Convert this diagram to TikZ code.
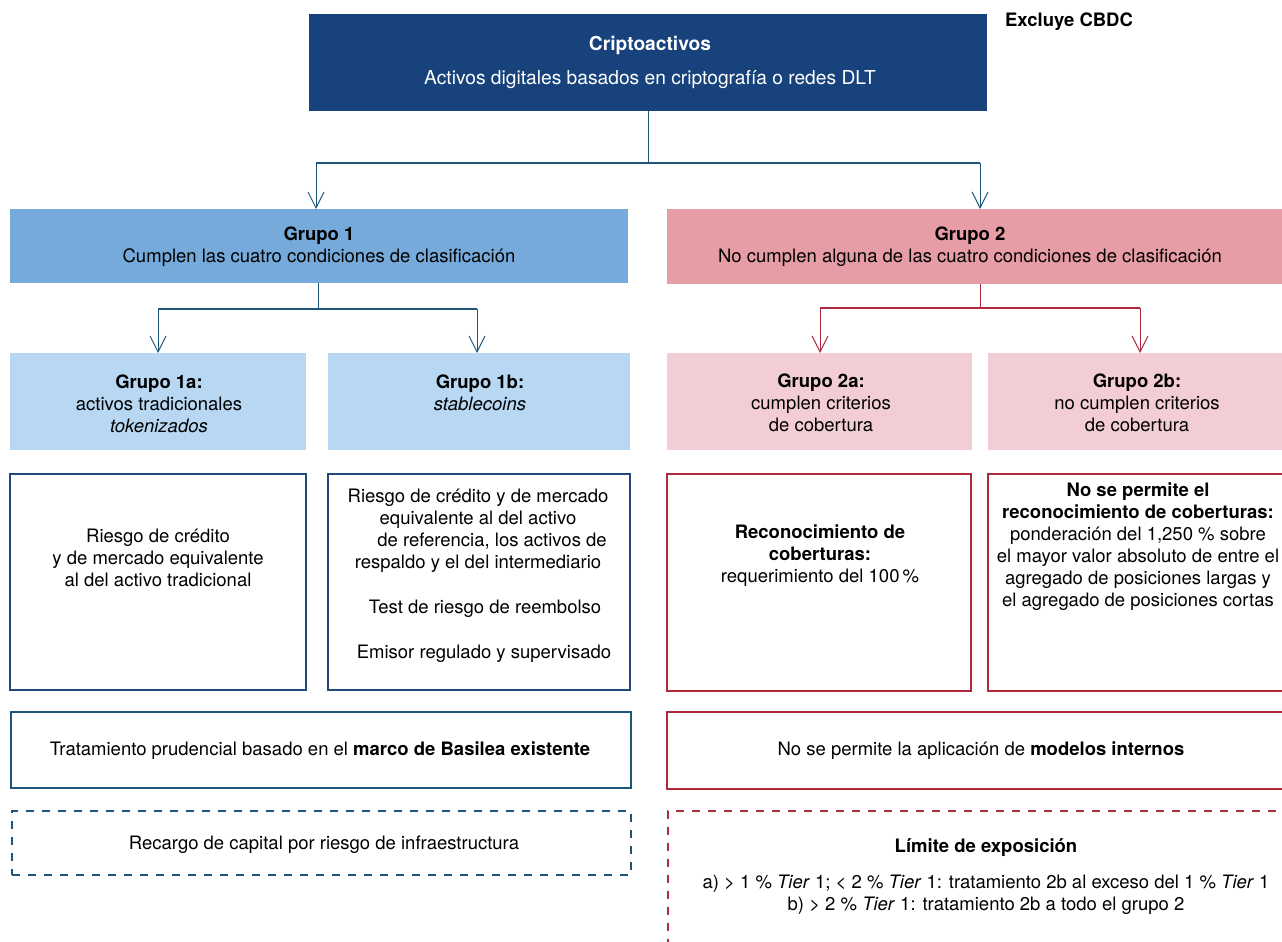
\documentclass[tikz,border=0pt]{standalone}
\usepackage{fontspec}
\setmainfont{TeX Gyre Heros}
\usetikzlibrary{arrows.meta}
\definecolor{navy}{HTML}{17427C}
\definecolor{gone}{HTML}{75AADB}
\definecolor{gonesub}{HTML}{B7D7F2}
\definecolor{gtwo}{HTML}{E69DA6}
\definecolor{gtwosub}{HTML}{F2CDD3}
\definecolor{bline}{HTML}{1C5779}
\definecolor{bbox}{HTML}{22497C}
\definecolor{rline}{HTML}{AE2B3D}
\begin{document}
\begin{tikzpicture}[x=1pt,y=-1pt,
  every node/.style={font=\fontsize{18.5}{22}\selectfont, inner sep=0pt, outer sep=0pt},
  fillbox/.style={anchor=north west, draw=none},
  bluebox/.style={anchor=north west, draw=bbox, line width=2.5pt},
  tealbox/.style={anchor=north west, draw=bline, line width=2.5pt},
  redbox/.style={anchor=north west, draw=rline, line width=2.5pt},
  txt/.style={align=center, text=black},
  bconn/.style={draw=bline, line width=1pt},
  bhconn/.style={draw=bline, line width=2pt},
  barrow/.style={draw=bline, line width=1pt, -{Straight Barb[length=16pt,width=16pt]}},
  rconn/.style={draw=rline, line width=1pt},
  rhconn/.style={draw=rline, line width=2pt},
  rarrow/.style={draw=rline, line width=1pt, -{Straight Barb[length=16pt,width=16pt]}},
  dashblue/.style={draw=bline, line width=2.5pt, dash pattern=on 8pt off 8pt},
  dashred/.style={draw=rline, line width=2.5pt, dash pattern=on 8pt off 8pt}
]
\useasboundingbox (0,0) rectangle (1282,942);

% top
\node[fillbox, fill=navy, minimum width=678pt, minimum height=97pt] (crip) at (309,14) {};
\node[txt, text=white, font=\fontsize{19.2}{22}\selectfont] (tcrip) at (650,62) {\textbf{Criptoactivos}\\[12pt]Activos digitales basados en criptografía o redes DLT};
\node[txt] (excl) at (1069,22) {\textbf{Excluye CBDC}};

% level 1
\node[fillbox, fill=gone, minimum width=618pt, minimum height=74pt] (g1) at (10,209) {};
\node[txt] (tg1) at (319,247) {\textbf{Grupo 1}\\Cumplen las cuatro condiciones de clasificación};
\node[fillbox, fill=gtwo, minimum width=625pt, minimum height=75pt] (g2) at (667,209) {};
\node[txt] (tg2) at (970,247) {\textbf{Grupo 2}\\No cumplen alguna de las cuatro condiciones de clasificación};

% connectors top
\coordinate (c0) at (648,163);
\coordinate (cL) at (316,163);
\coordinate (cR) at (980,163);
\draw[bconn] (crip.south) -- (c0);
\draw[bhconn] (cL) -- (cR);
\draw[barrow] (cL) -- (cL |- g1.north);
\draw[barrow] (cR) -- (cR |- g2.north);

% level 2
\node[fillbox, fill=gonesub, minimum width=296pt, minimum height=97pt] (s1a) at (10,353) {};
\node[txt] (ts1a) at (159,404) {\textbf{Grupo 1a:}\\activos tradicionales\\\textit{tokenizados}};
\node[fillbox, fill=gonesub, minimum width=302pt, minimum height=97pt] (s1b) at (328,353) {};
\node[txt] (ts1b) at (480,393) {\textbf{Grupo 1b:}\\\textit{stablecoins}};
\node[fillbox, fill=gtwosub, minimum width=305pt, minimum height=97pt] (s2a) at (667,353) {};
\node[txt] (ts2a) at (821,403) {\textbf{Grupo 2a:}\\cumplen criterios\\de cobertura};
\node[fillbox, fill=gtwosub, minimum width=305pt, minimum height=97pt] (s2b) at (988,353) {};
\node[txt] (ts2b) at (1137,403) {\textbf{Grupo 2b:}\\no cumplen criterios\\de cobertura};

% connectors group 1
\coordinate (d0) at (318,309);
\coordinate (dL) at (158,309);
\coordinate (dR) at (477,309);
\draw[bconn] (d0 |- g1.south) -- (d0);
\draw[bhconn] (dL) -- (dR);
\draw[barrow] (dL) -- (dL |- s1a.north);
\draw[barrow] (dR) -- (dR |- s1b.north);

% connectors group 2
\coordinate (e0) at (980,308);
\coordinate (eL) at (820,308);
\coordinate (eR) at (1140,308);
\draw[rconn] (e0 |- g2.south) -- (e0);
\draw[rhconn] (eL) -- (eR);
\draw[rarrow] (eL) -- (eL |- s2a.north);
\draw[rarrow] (eR) -- (eR |- s2b.north);

% risk boxes
\node[bluebox, minimum width=296pt, minimum height=216pt] (r1a) at (10,474) {};
\node[txt] (tr1a) at (158,558) {Riesgo de crédito\\y de mercado equivalente\\al del activo tradicional};
\node[bluebox, minimum width=302pt, minimum height=216pt] (r1b) at (328,474) {};
\node[txt] (tr1b) at (478,576) {Riesgo de crédito y de mercado\\equivalente al del activo\hspace*{12pt}\\\hspace*{28pt}de referencia, los activos de\\respaldo y el del intermediario\hspace*{8pt}\\[23pt]\hspace*{14pt}Test de riesgo de reembolso\\[23pt]\hspace*{12pt}Emisor regulado y supervisado};
\node[redbox, minimum width=304pt, minimum height=217pt] (r2a) at (667,474) {};
\node[txt] (tr2a) at (820,556) {\textbf{Reconocimiento de}\\\textbf{coberturas:}\\requerimiento del 100\,\%};
\node[redbox, minimum width=310pt, minimum height=217pt] (r2b) at (988,474) {};
\node[txt] (tr2b) at (1138,547) {\textbf{No se permite el}\\\textbf{reconocimiento de coberturas:}\\ponderación del 1,250 \% sobre\\el mayor valor absoluto de entre el\\agregado de posiciones largas y\\el agregado de posiciones cortas};

% treatment boxes
\node[tealbox, minimum width=620pt, minimum height=76pt] (trat) at (11,712) {};
\node[txt] (ttrat) at (320,751) {Tratamiento prudencial basado en el \textbf{marco de Basilea existente}};
\node[redbox, minimum width=630pt, minimum height=77pt] (mod) at (667,712) {};
\node[txt] (tmod) at (981,751) {No se permite la aplicación de \textbf{modelos internos}};

% dashed boxes
\node[anchor=north west, dashblue, minimum width=619pt, minimum height=64pt] (rec) at (12,811) {};
\node[txt] (trec) at (324,845) {Recargo de capital por riesgo de infraestructura};
\node[anchor=north west, dashred, minimum width=640pt, minimum height=160pt] (lim) at (668,811) {};
\node[txt] (tlim) at (986,877) {\textbf{Límite de exposición}\\[14pt]a) > 1 \% \textit{Tier} 1; < 2 \% \textit{Tier} 1: tratamiento 2b al exceso del 1 \% \textit{Tier} 1\\b) > 2 \% \textit{Tier} 1: tratamiento 2b a todo el grupo 2};
\end{tikzpicture}
\end{document}
